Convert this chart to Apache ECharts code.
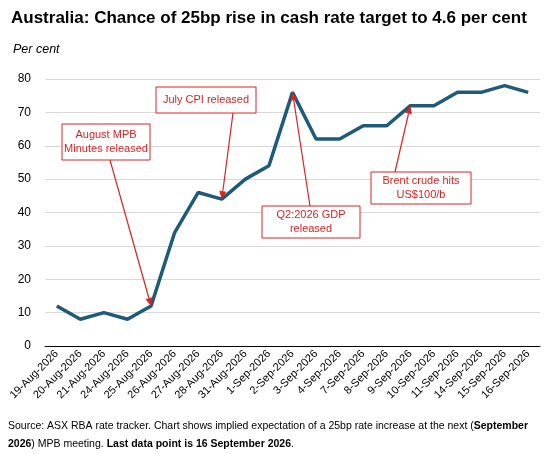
<!DOCTYPE html>
<html><head><meta charset="utf-8">
<script src="https://cdn.jsdelivr.net/npm/echarts@6/dist/echarts.min.js"></script>
<style>html,body{margin:0;padding:0;background:#fff}#c{width:548px;height:454px}</style>
</head><body><div id="c"></div>
<script>
const categories = ['19-Aug-2026','20-Aug-2026','21-Aug-2026','24-Aug-2026','25-Aug-2026','26-Aug-2026','27-Aug-2026','28-Aug-2026','31-Aug-2026','1-Sep-2026','2-Sep-2026','3-Sep-2026','4-Sep-2026','7-Sep-2026','8-Sep-2026','9-Sep-2026','10-Sep-2026','11-Sep-2026','14-Sep-2026','15-Sep-2026','16-Sep-2026'];
const chance = [12,8,10,8,12,34,46,44,50,54,76,62,62,66,66,72,72,76,76,78,76];
// annotation: text, box [x,y,w,h], arrow start, target category index
const notes = [
  {text:'August MPB\nMinutes released', box:[62,124,88,36], from:[110,160], idx:4},
  {text:'July CPI released', box:[156,87,100,26], from:[233,113], idx:7},
  {text:'Q2:2026 GDP\nreleased', box:[262,206,98,32], from:[310,206], idx:10},
  {text:'Brent crude hits\nUS$100/b', box:[371,172,100,32], from:[395,172], idx:15}
];
const font = 'Liberation Sans, Arial, sans-serif';
const chart = echarts.init(document.getElementById('c'));
chart.setOption({
  animation:false,
  textStyle:{fontFamily:font},
  title:[
    {text:'Australia: Chance of 25bp rise in cash rate target to 4.6 per cent', left:6, top:5,
     textStyle:{fontSize:17, fontWeight:'bold', color:'#000', fontFamily:'Liberation Sans Narrow, Liberation Sans, Arial, sans-serif'}},
    {text:'Per cent', left:8, top:38, textStyle:{fontSize:12.5, fontStyle:'italic', fontWeight:'normal', color:'#000'}}
  ],
  grid:{left:45, right:8, top:79, bottom:108},
  xAxis:{type:'category', data:categories, boundaryGap:true,
    axisLine:{lineStyle:{color:'#000'}}, axisTick:{show:false},
    axisLabel:{rotate:45, interval:0, fontSize:11, color:'#000', margin:6}},
  yAxis:{type:'value', min:0, max:80, interval:10,
    axisLine:{show:false}, axisTick:{show:false},
    axisLabel:{fontSize:12, color:'#000', margin:14},
    splitLine:{lineStyle:{color:'#d9d9d9'}}},
  series:[{type:'line', data:chance, symbol:'none',
    lineStyle:{color:'#1f5a78', width:3.5}}]
});
const g = [];
notes.forEach(n => {
  const [bx,by,bw,bh] = n.box;
  const t = chart.convertToPixel({seriesIndex:0}, [n.idx, chance[n.idx]]);
  const [fx,fy] = n.from;
  const ang = Math.atan2(t[1]-fy, t[0]-fx);
  const L = 8, W = 3.5;
  const bxp = t[0]-L*Math.cos(ang), byp = t[1]-L*Math.sin(ang);
  g.push({type:'line', z:10, shape:{x1:fx,y1:fy,x2:bxp,y2:byp}, style:{stroke:'#e02020', lineWidth:1.2}});
  g.push({type:'polygon', z:10, shape:{points:[[t[0],t[1]],[bxp-W*Math.sin(ang),byp+W*Math.cos(ang)],[bxp+W*Math.sin(ang),byp-W*Math.cos(ang)]]}, style:{fill:'#e02020'}});
  g.push({type:'rect', z:11, shape:{x:bx,y:by,width:bw,height:bh}, style:{fill:'#fff', stroke:'#e02020', lineWidth:1}});
  g.push({type:'text', z:12, x:bx+bw/2, y:by+bh/2, style:{text:n.text, fill:'#e02020', font:'11px '+font, align:'center', verticalAlign:'middle', lineHeight:14}});
});
g.push({type:'text', left:8, top:417, style:{
  text:'Source: ASX RBA rate tracker. Chart shows implied expectation of a 25bp rate increase at the next ({b|September}\n{b|2026}) MPB meeting. {b|Last data point is 16 September 2026}.',
  font:'10.5px '+font, fill:'#000', lineHeight:18, rich:{b:{fontWeight:'bold', fontSize:10.5}}}});
chart.setOption({graphic:g});
</script></body></html>
